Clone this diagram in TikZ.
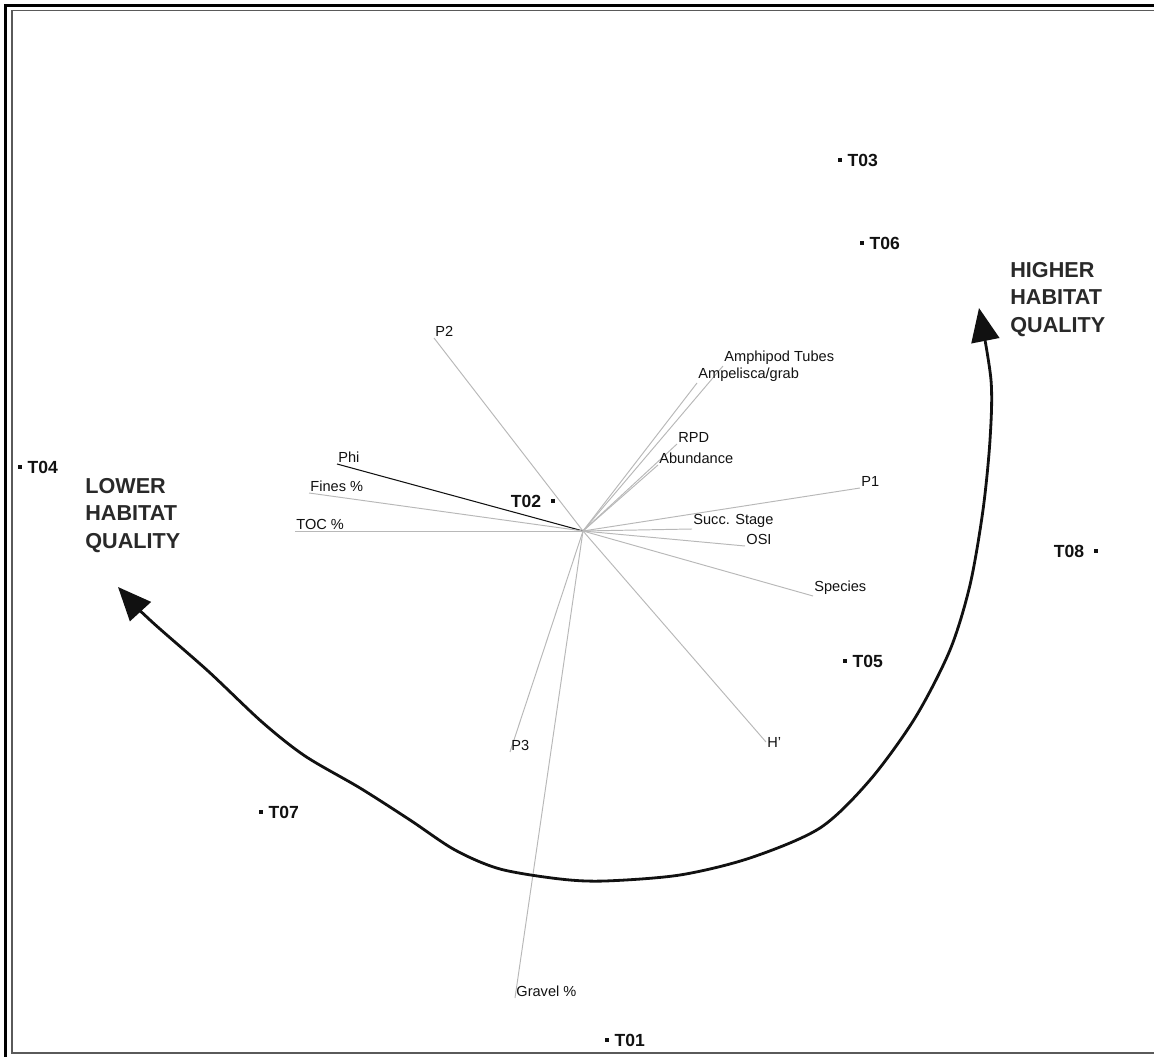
\documentclass[tikz,border=0pt]{standalone}
\usepackage{fontspec}
\setmainfont{Liberation Sans}
\usetikzlibrary{arrows.meta,positioning}
\definecolor{pcInk}{HTML}{111111}
\definecolor{pcVec}{HTML}{B8B8B8}
\definecolor{pcFrame}{HTML}{5A5A5A}
\tikzset{
  % biplot vector (gray)
  vec/.style={draw=pcVec,line width=0.55pt},
  % dark vector
  vecd/.style={draw=pcInk,line width=0.6pt},
  % vector label
  vlab/.style={font=\fontsize{8.3}{9}\selectfont,text=pcInk,inner sep=0.6pt},
  % station dot
  stn/.style={rectangle,fill=pcInk,minimum size=1.8pt,inner sep=0pt},
  % station label
  stnlab/.style={font=\fontsize{10}{11}\selectfont\bfseries,text=pcInk,inner sep=0.5pt},
  % habitat quality text
  qual/.style={font=\fontsize{12.3}{15.6}\selectfont\bfseries,text=pcInk!90,
    align=left,inner sep=0pt},
  % trend arrow
  trend/.style={{Triangle[length=19pt,width=16pt]}-{Triangle[length=19pt,width=16pt]},
    line width=1.6pt,draw=pcInk,line join=round},
}
\begin{document}
\begin{tikzpicture}[x=0.02cm,y=-0.02cm]
  \useasboundingbox (0,0) rectangle (1154,1057);
  \clip (0,0) rectangle (1154,1057);
  % frame
  \draw[line width=2pt,draw=black] (5.5,1100) -- (5.5,5.5) -- (1200,5.5);
  \draw[line width=1.1pt,draw=pcFrame] (12,10.5) rectangle (1200,1053);

  % vectors
  \coordinate (ctr) at (583,531);
  \coordinate (vP2) at (434,338);
  \coordinate (vPhi) at (337,464);
  \coordinate (vFines) at (309,493);
  \coordinate (vTOC) at (295,531);
  \coordinate (vAmph) at (723,366);
  \coordinate (vAmpel) at (697,383);
  \coordinate (vRPD) at (677,444);
  \coordinate (vAbund) at (658,465);
  \coordinate (vP1) at (860,488);
  \coordinate (vSucc) at (692,529);
  \coordinate (vOSI) at (745,546);
  \coordinate (vSpec) at (813,596);
  \coordinate (vH) at (766,742);
  \coordinate (vP3) at (510,752);
  \coordinate (vGrav) at (515,998);

  \draw[vec] (ctr) -- (vP2);
  \draw[vecd] (ctr) -- (vPhi);
  \draw[vec] (ctr) -- (vFines);
  \draw[vec] (ctr) -- (vTOC);
  \draw[vec] (ctr) -- (vAmph);
  \draw[vec] (ctr) -- (vAmpel);
  \draw[vec] (ctr) -- (vRPD);
  \draw[vec] (ctr) -- (vAbund);
  \draw[vec] (ctr) -- (vP1);
  \draw[vec] (ctr) -- (vSucc);
  \draw[vec] (ctr) -- (vOSI);
  \draw[vec] (ctr) -- (vSpec);
  \draw[vec] (ctr) -- (vH);
  \draw[vec] (ctr) -- (vP3);
  \draw[vec] (ctr) -- (vGrav);

  \node[vlab,above right=0pt and 0pt of vP2] (lP2) {P2};
  \node[vlab,above right=0pt and 0pt of vPhi] (lPhi) {Phi};
  \node[vlab,above right=0pt and 0pt of vFines] (lFines) {Fines \%};
  \node[vlab,above right=0pt and 0pt of vTOC] (lTOC) {TOC \%};
  \node[vlab,above right=0pt and 0pt of vAmph] (lAmph) {Amphipod Tubes};
  \node[vlab,above right=0pt and 0pt of vAmpel] (lAmpel) {Ampelisca/grab};
  \node[vlab,above right=0pt and 0pt of vRPD] (lRPD) {RPD};
  \node[vlab,above right=0pt and 0pt of vAbund] (lAbund) {Abundance};
  \node[vlab,above right=0pt and 0pt of vP1] (lP1) {P1};
  \node[vlab,above right=0pt and 0pt of vSucc] (lSucc) {Succ. Stage};
  \node[vlab,above right=0pt and 0pt of vOSI] (lOSI) {OSI};
  \node[vlab,above right=0pt and 0pt of vSpec] (lSpec) {Species};
  \node[vlab,right=0pt of vH] (lH) {H'};
  \node[vlab,above right=0pt and 0pt of vP3] (lP3) {P3};
  \node[vlab,above right=0pt and 0pt of vGrav] (lGrav) {Gravel \%};

  % stations
  \node[stn] (sT03) at (840,160) {};
  \node[stn] (sT06) at (862,243) {};
  \node[stn] (sT04) at (20,467) {};
  \node[stn] (sT02) at (553,501) {};
  \node[stn] (sT08) at (1096,551) {};
  \node[stn] (sT05) at (845,661) {};
  \node[stn] (sT07) at (261,812) {};
  \node[stn] (sT01) at (607,1040) {};
  \node[stnlab,right=2.5pt of sT03] (tT03) {T03};
  \node[stnlab,right=2.5pt of sT06] (tT06) {T06};
  \node[stnlab,right=2.5pt of sT04] (tT04) {T04};
  \node[stnlab,left=5pt of sT02] (tT02) {T02};
  \node[stnlab,left=5pt of sT08] (tT08) {T08};
  \node[stnlab,right=2.5pt of sT05] (tT05) {T05};
  \node[stnlab,right=2.5pt of sT07] (tT07) {T07};
  \node[stnlab,right=2.5pt of sT01] (tT01) {T01};

  % habitat quality
  \node[qual,anchor=north west] (lower) at (85,478) {LOWER\\HABITAT\\QUALITY};
  \node[qual,anchor=north west] (higher) at (1010,262) {HIGHER\\HABITAT\\QUALITY};

  \coordinate (lowTip) at (118,587);
  \coordinate (highTip) at (979,308);
  \draw[trend] plot[smooth,tension=0.5] coordinates {(lowTip) (150,620) (208,671)
    (262,722) (305,756) (360,788) (410,820) (455,850) (500,869) (560,879) (605,881)
    (680,875) (750,858) (820,828) (870,780) (915,718) (950,650) (970,585)
    (983,510) (990,440) (991,380) (highTip)};
\end{tikzpicture}
\end{document}
